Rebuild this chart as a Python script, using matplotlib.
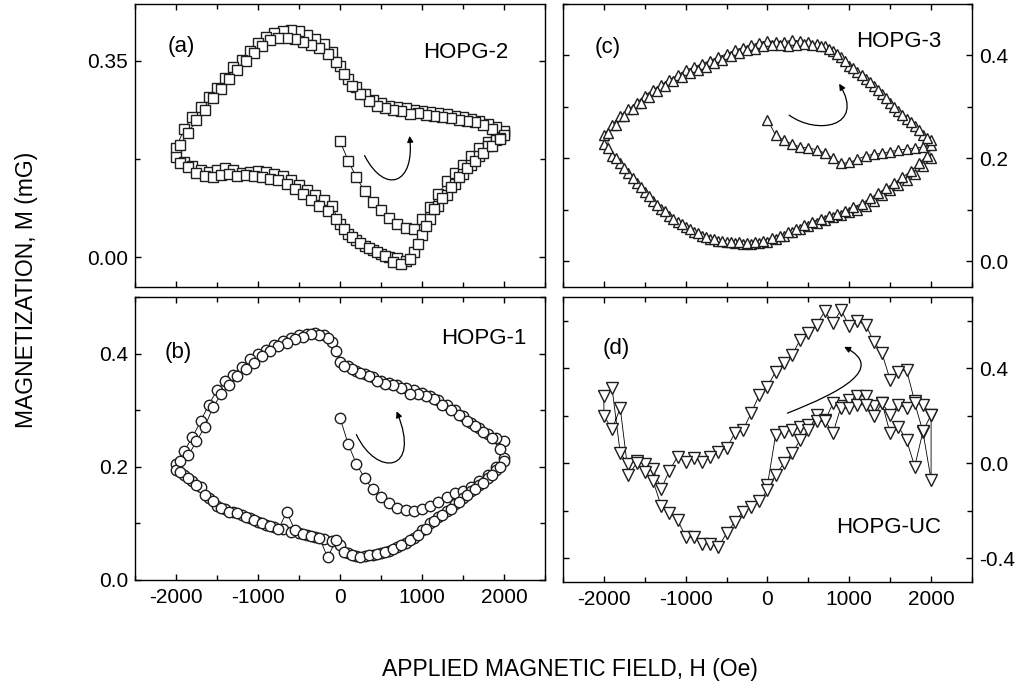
import matplotlib
matplotlib.use('Agg')
import matplotlib.pyplot as plt
import numpy as np
from matplotlib.ticker import MultipleLocator, FormatStrFormatter
from matplotlib.patches import FancyArrowPatch
from matplotlib.path import Path

plt.rcParams['font.family'] = ['Liberation Sans', 'DejaVu Sans']
plt.rcParams['axes.unicode_minus'] = False

# field sweeps (Oe)
H_VIRGIN = [0, 100, 200, 300, 400, 500, 600, 700, 800, 900, 1000,
            1100, 1200, 1300, 1400, 1500, 1600, 1700, 1800, 1900, 2000]
H_DOWN = [2000, 1900, 1800, 1700, 1600, 1500, 1400, 1300, 1200, 1100, 1000,
          900, 800, 700, 600, 500, 400, 300, 200, 100, 0,
          -100, -200, -300, -400, -500, -600, -700, -800, -900, -1000,
          -1100, -1200, -1300, -1400, -1500, -1600, -1700, -1800, -1900, -2000]
H_UP = H_DOWN[::-1]
H_DOWN2 = [1950, 1850, 1750, 1650, 1550, 1450, 1350, 1250, 1150, 1050,
           950, 850, 750, 650, 550, 450, 350, 250, 150, 50,
           -50, -150, -250, -350, -450, -550, -650, -750, -850, -950,
           -1050, -1150, -1250, -1350, -1450, -1550, -1650, -1750, -1850, -1950]
H_UP2 = H_DOWN2[::-1]

# (a) HOPG-2
A_VIRGIN = [0.207, 0.172, 0.142, 0.118, 0.099, 0.084, 0.070, 0.060, 0.052, 0.050, 0.068,
            0.090, 0.112, 0.135, 0.150, 0.165, 0.180, 0.195, 0.205, 0.215, 0.222]
A_DOWN = [0.225, 0.232, 0.238, 0.242, 0.246, 0.250, 0.252, 0.255, 0.256, 0.259, 0.261,
          0.263, 0.266, 0.268, 0.270, 0.274, 0.280, 0.290, 0.303, 0.318, 0.340,
          0.365, 0.380, 0.388, 0.395, 0.402, 0.404, 0.403, 0.400, 0.392, 0.382,
          0.368, 0.352, 0.338, 0.320, 0.302, 0.285, 0.268, 0.250, 0.228, 0.195]
A_UP = [0.178, 0.170, 0.162, 0.156, 0.152, 0.155, 0.158, 0.156, 0.150, 0.152,
        0.154, 0.151, 0.148, 0.144, 0.138, 0.129, 0.120, 0.110, 0.101, 0.092,
        0.060, 0.042, 0.030, 0.020, 0.012, 0.006, 0.001, -0.002, -0.006, 0.010,
        0.040, 0.068, 0.092, 0.110, 0.130, 0.148, 0.165, 0.180, 0.198, 0.208, 0.218]
A_DOWN2 = [0.212, 0.228, 0.236, 0.240, 0.243, 0.245, 0.248, 0.250, 0.252, 0.254,
           0.256, 0.255, 0.260, 0.263, 0.266, 0.270, 0.278, 0.290, 0.305, 0.326,
           0.348, 0.362, 0.372, 0.378, 0.384, 0.388, 0.390, 0.390, 0.386, 0.376,
           0.364, 0.350, 0.334, 0.318, 0.300, 0.284, 0.262, 0.244, 0.222, 0.200]
A_UP2 = [0.168, 0.160, 0.150, 0.145, 0.143, 0.147, 0.148, 0.144, 0.147, 0.145,
         0.142, 0.140, 0.137, 0.130, 0.121, 0.112, 0.102, 0.092, 0.082, 0.068,
         0.050, 0.036, 0.026, 0.016, 0.010, 0.002, -0.008, -0.012, -0.004, 0.024,
         0.055, 0.085, 0.105, 0.125, 0.143, 0.158, 0.172, 0.186, 0.198, 0.210]

# (b) HOPG-1
B_VIRGIN = [0.287, 0.240, 0.205, 0.180, 0.160, 0.146, 0.136, 0.128, 0.124, 0.122, 0.125,
            0.130, 0.138, 0.147, 0.153, 0.158, 0.165, 0.174, 0.186, 0.200, 0.215]
B_DOWN = [0.245, 0.250, 0.258, 0.268, 0.278, 0.290, 0.300, 0.310, 0.318, 0.325, 0.330,
          0.336, 0.340, 0.344, 0.348, 0.352, 0.358, 0.364, 0.370, 0.378, 0.385,
          0.420, 0.432, 0.436, 0.435, 0.432, 0.428, 0.422, 0.415, 0.407, 0.400,
          0.390, 0.376, 0.363, 0.352, 0.335, 0.310, 0.280, 0.252, 0.228, 0.205]
B_UP = [0.195, 0.185, 0.175, 0.165, 0.145, 0.130, 0.125, 0.120, 0.115, 0.110,
        0.103, 0.098, 0.093, 0.090, 0.085, 0.083, 0.080, 0.076, 0.072, 0.068,
        0.062, 0.048, 0.043, 0.042, 0.045, 0.048, 0.052, 0.058, 0.065, 0.075,
        0.088, 0.100, 0.112, 0.122, 0.135, 0.145, 0.158, 0.168, 0.180, 0.195, 0.210]
B_DOWN2 = [0.232, 0.250, 0.262, 0.272, 0.280, 0.292, 0.300, 0.310, 0.320, 0.325,
           0.328, 0.328, 0.340, 0.345, 0.347, 0.352, 0.360, 0.366, 0.372, 0.378,
           0.405, 0.428, 0.432, 0.434, 0.430, 0.425, 0.418, 0.413, 0.405, 0.395,
           0.383, 0.372, 0.360, 0.345, 0.328, 0.305, 0.270, 0.245, 0.220, 0.210]
B_UP2 = [0.190, 0.180, 0.168, 0.150, 0.140, 0.128, 0.120, 0.118, 0.112, 0.106,
         0.100, 0.095, 0.090, 0.120, 0.088, 0.082, 0.078, 0.074, 0.040, 0.070,
         0.050, 0.045, 0.040, 0.045, 0.046, 0.050, 0.055, 0.062, 0.070, 0.080,
         0.090, 0.105, 0.115, 0.125, 0.138, 0.150, 0.160, 0.172, 0.185, 0.200]

# (c) HOPG-3
C_VIRGIN = [0.275, 0.245, 0.235, 0.228, 0.222, 0.220, 0.217, 0.210, 0.200, 0.190, 0.192,
            0.198, 0.205, 0.208, 0.210, 0.213, 0.216, 0.218, 0.220, 0.222, 0.225]
C_DOWN = [0.236, 0.245, 0.262, 0.276, 0.292, 0.308, 0.325, 0.340, 0.355, 0.368, 0.380,
          0.397, 0.408, 0.418, 0.423, 0.426, 0.428, 0.429, 0.427, 0.427, 0.428,
          0.425, 0.420, 0.415, 0.410, 0.403, 0.397, 0.390, 0.384, 0.377, 0.371,
          0.362, 0.352, 0.343, 0.333, 0.322, 0.308, 0.295, 0.283, 0.265, 0.245]
C_UP = [0.228, 0.205, 0.190, 0.172, 0.152, 0.134, 0.118, 0.101, 0.088, 0.076,
        0.066, 0.056, 0.050, 0.044, 0.040, 0.037, 0.035, 0.034, 0.034, 0.036,
        0.038, 0.043, 0.050, 0.056, 0.062, 0.068, 0.075, 0.081, 0.086, 0.090,
        0.095, 0.100, 0.108, 0.118, 0.128, 0.138, 0.148, 0.158, 0.170, 0.185, 0.200]
C_DOWN2 = [0.240, 0.255, 0.270, 0.285, 0.300, 0.318, 0.333, 0.348, 0.362, 0.375,
           0.390, 0.402, 0.412, 0.418, 0.420, 0.422, 0.420, 0.418, 0.420, 0.420,
           0.418, 0.412, 0.410, 0.405, 0.398, 0.392, 0.385, 0.378, 0.372, 0.365,
           0.358, 0.350, 0.340, 0.330, 0.320, 0.308, 0.295, 0.282, 0.265, 0.250]
C_UP2 = [0.220, 0.200, 0.182, 0.162, 0.145, 0.127, 0.110, 0.097, 0.083, 0.072,
         0.062, 0.055, 0.048, 0.043, 0.040, 0.038, 0.037, 0.036, 0.038, 0.040,
         0.045, 0.050, 0.057, 0.063, 0.070, 0.077, 0.083, 0.088, 0.092, 0.098,
         0.105, 0.112, 0.122, 0.132, 0.142, 0.152, 0.163, 0.175, 0.190, 0.205]

# (d) HOPG-UC
D_VIRGIN = [-0.090, 0.120, 0.133, 0.140, 0.154, 0.161, 0.204, 0.182, 0.126, 0.239, 0.267,
            0.281, 0.284, 0.239, 0.253, 0.126, 0.154, 0.098, -0.014, 0.133, -0.070]
D_DOWN = [0.204, 0.246, 0.260, 0.393, 0.386, 0.351, 0.463, 0.512, 0.583, 0.597, 0.576,
          0.646, 0.590, 0.639, 0.583, 0.548, 0.520, 0.456, 0.421, 0.386, 0.323,
          0.288, 0.211, 0.140, 0.126, 0.063, 0.049, 0.028, 0.007, 0.021, 0.007,
          0.028, -0.032, -0.109, -0.025, -0.003, 0.011, -0.004, 0.042, 0.316, 0.284]
D_UP = [0.200, 0.143, 0.232, -0.049, 0.000, -0.035, -0.073, -0.180, -0.208, -0.239,
        -0.309, -0.312, -0.340, -0.340, -0.351, -0.295, -0.246, -0.204, -0.185, -0.161,
        -0.112, -0.049, 0.000, 0.042, 0.098, 0.140, 0.176, 0.176, 0.253, 0.232,
        0.232, 0.246, 0.246, 0.197, 0.254, 0.204, 0.246, 0.232, 0.253, 0.134, 0.204]

# curved arrows: start, two control points, end (H, M)
ARROW_A = [(300, 0.181), (550, 0.110), (920, 0.130), (848, 0.216)]
ARROW_B = [(200, 0.257), (450, 0.180), (1000, 0.190), (690, 0.298)]
ARROW_C = [(265, 0.284), (600, 0.245), (1200, 0.260), (876, 0.345)]
ARROW_D = [(244, 0.211), (900, 0.300), (1450, 0.400), (937, 0.490)]


def trace(*branches):
    H = np.concatenate([np.asarray(b[0], float) for b in branches])
    M = np.concatenate([np.asarray(b[1], float) for b in branches])
    return H, M


def curved_arrow(ax, pts):
    path = Path(pts, [Path.MOVETO, Path.CURVE4, Path.CURVE4, Path.CURVE4])
    ax.add_patch(FancyArrowPatch(path=path, arrowstyle='-|>', mutation_scale=9,
                                 lw=0.9, color='k'))


def setup(ax, ylim, major, minor, fmt, right=False, xlabels=False):
    ax.set_xlim(-2500, 2500)
    ax.set_ylim(*ylim)
    ax.xaxis.set_major_locator(MultipleLocator(1000))
    ax.xaxis.set_minor_locator(MultipleLocator(500))
    ax.yaxis.set_major_locator(MultipleLocator(major))
    ax.yaxis.set_minor_locator(MultipleLocator(minor))
    ax.yaxis.set_major_formatter(FormatStrFormatter(fmt))
    ax.tick_params(which='both', direction='in', top=True, right=True,
                   labelsize=15, width=1.0)
    ax.tick_params(which='major', length=4.5)
    ax.tick_params(which='minor', length=3.5)
    ax.tick_params(axis='x', pad=6)
    ax.tick_params(axis='y', pad=5)
    if right:
        ax.tick_params(axis='y', labelleft=False, labelright=True)
    if not xlabels:
        ax.tick_params(axis='x', labelbottom=False)
    for s in ax.spines.values():
        s.set_linewidth(1.0)


def draw(ax, H, M, marker, ms):
    ax.plot(H, M, color='k', lw=0.6, marker=marker, ms=ms, mfc='white',
            mec='#1e1e1e', mew=1.0)


fig = plt.figure(figsize=(10.24, 6.95), dpi=100)
ax_a = fig.add_axes([0.1318, 0.5871, 0.4004, 0.4072])
ax_b = fig.add_axes([0.1318, 0.1655, 0.4004, 0.4072])
ax_c = fig.add_axes([0.5498, 0.5871, 0.3994, 0.4072])
ax_d = fig.add_axes([0.5498, 0.1626, 0.3994, 0.4101])

draw(ax_a, *trace((H_VIRGIN, A_VIRGIN), (H_DOWN, A_DOWN), (H_UP, A_UP),
                  (H_DOWN2, A_DOWN2), (H_UP2, A_UP2)), 's', 6.5)
draw(ax_b, *trace((H_VIRGIN, B_VIRGIN), (H_DOWN, B_DOWN), (H_UP, B_UP),
                  (H_DOWN2, B_DOWN2), (H_UP2, B_UP2)), 'o', 7.5)
draw(ax_c, *trace((H_VIRGIN, C_VIRGIN), (H_DOWN, C_DOWN), (H_UP, C_UP),
                  (H_DOWN2, C_DOWN2), (H_UP2, C_UP2)), '^', 7.5)
draw(ax_d, *trace((H_VIRGIN, D_VIRGIN), (H_DOWN, D_DOWN), (H_UP, D_UP)), 'v', 9)

setup(ax_a, (-0.053, 0.451), 0.35, 0.175, '%.2f')
setup(ax_b, (0.0, 0.5), 0.2, 0.1, '%.1f', xlabels=True)
setup(ax_c, (-0.05, 0.5), 0.2, 0.1, '%.1f', right=True)
setup(ax_d, (-0.5, 0.7), 0.4, 0.2, '%.1f', right=True, xlabels=True)

for ax, pts in [(ax_a, ARROW_A), (ax_b, ARROW_B), (ax_c, ARROW_C), (ax_d, ARROW_D)]:
    curved_arrow(ax, pts)

txt = dict(fontsize=16, va='center')
ax_a.text(0.080, 0.848, '(a)', transform=ax_a.transAxes, ha='left', **txt)
ax_a.text(0.910, 0.830, 'HOPG-2', transform=ax_a.transAxes, ha='right', **txt)
ax_b.text(0.073, 0.805, '(b)', transform=ax_b.transAxes, ha='left', **txt)
ax_b.text(0.956, 0.855, 'HOPG-1', transform=ax_b.transAxes, ha='right', **txt)
ax_c.text(0.078, 0.845, '(c)', transform=ax_c.transAxes, ha='left', **txt)
ax_c.text(0.924, 0.869, 'HOPG-3', transform=ax_c.transAxes, ha='right', **txt)
ax_d.text(0.098, 0.820, '(d)', transform=ax_d.transAxes, ha='left', **txt)
ax_d.text(0.924, 0.190, 'HOPG-UC', transform=ax_d.transAxes, ha='right', **txt)

fig.text(0.026, 0.583, 'MAGNETIZATION, M (mG)', rotation=90, ha='center',
         va='center', fontsize=16.5)
fig.text(0.557, 0.036, 'APPLIED MAGNETIC FIELD, H (Oe)', ha='center',
         va='center', fontsize=16.5)

fig.savefig('out.png', dpi=100)
